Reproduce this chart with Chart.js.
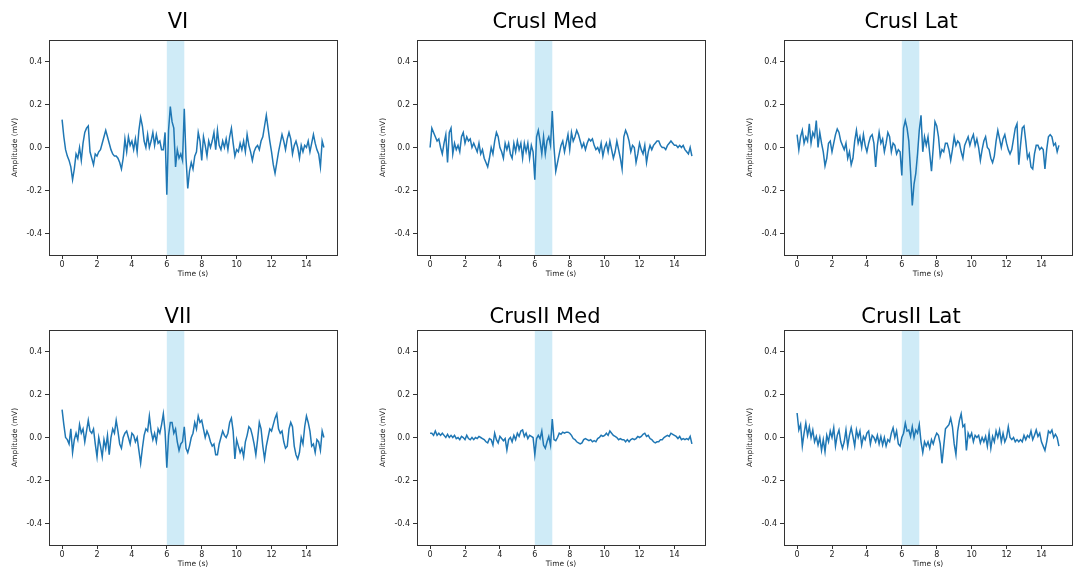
<!DOCTYPE html>
<html>
<head>
<meta charset="utf-8">
<script src="https://cdn.jsdelivr.net/npm/chart.js@4.4.0/dist/chart.umd.min.js"></script>
<style>
    html, body { margin: 0; padding: 0; background: #fff; overflow: hidden; }
    body { width: 1073px; height: 576px; position: relative; }
    canvas { position: absolute; }
    .title {
        position: absolute;
        width: 300px;
        margin-left: -150px;
        text-align: center;
        font-family: "DejaVu Sans", "Liberation Sans", sans-serif;
        font-size: 21px;
        line-height: 21px;
        color: #000;
    }
</style>
</head>
<body>
<canvas id="c0"></canvas>
<canvas id="c1"></canvas>
<canvas id="c2"></canvas>
<canvas id="c3"></canvas>
<canvas id="c4"></canvas>
<canvas id="c5"></canvas>
<script>
// time base, 0.1 s per sample
const times = Array.from({ length: 151 }, (_, i) => i / 10);
const xTicks = [0, 2, 4, 6, 8, 10, 12, 14];
const yTicks = [-0.4, -0.2, 0.0, 0.2, 0.4];
const bandRange = [6, 7];
const titles = ["VI", "CrusI Med", "CrusI Lat", "VII", "CrusII Med", "CrusII Lat"];

const vi = [
    0.13, 0.05, -0.01, -0.04, -0.06, -0.09, -0.15, -0.10, -0.03, -0.05,
    0.0, -0.06, 0.02, 0.07, 0.09, 0.10, -0.02, -0.05, -0.08, -0.03,
    -0.04, -0.02, -0.01, 0.02, 0.05, 0.08, 0.05, 0.02, -0.01, -0.03,
    -0.04, -0.04, -0.05, -0.07, -0.10, -0.05, 0.04, -0.02, 0.05, 0.01,
    0.03, -0.01, 0.04, -0.02, 0.08, 0.14, 0.10, 0.03, 0.0, 0.06,
    0.0, 0.03, 0.07, 0.01, 0.06, 0.02, 0.03, -0.01, -0.01, 0.07,
    -0.22, 0.08, 0.19, 0.12, 0.09, -0.09, -0.01, -0.05, -0.03, -0.06,
    0.18, -0.05, -0.19, -0.11, -0.07, -0.10, -0.04, -0.02, 0.07, 0.03,
    -0.06, 0.05, 0.01, -0.04, 0.03, 0.0, 0.03, 0.07, -0.01, 0.08,
    0.01, -0.01, 0.03, 0.0, 0.04, -0.01, 0.05, 0.09, 0.02, -0.04,
    -0.01, -0.02, 0.02, -0.01, 0.03, -0.02, 0.06, 0.01, -0.02, -0.06,
    -0.02, 0.0, 0.01, -0.01, 0.03, 0.05, 0.10, 0.15, 0.09, 0.03,
    -0.02, -0.08, -0.12, -0.07, -0.02, 0.02, 0.06, 0.03, -0.01, 0.04,
    0.07, 0.04, -0.03, 0.01, 0.03, 0.0, -0.05, 0.01, -0.02, 0.01,
    0.0, 0.03, -0.02, 0.02, 0.06, 0.02, -0.01, -0.03, -0.09, 0.03, 0.0
];

const crusIMed = [
    0.0, 0.09, 0.07, 0.05, 0.03, 0.04, 0.0, -0.03, 0.02, 0.06,
    -0.07, 0.07, 0.09, -0.03, 0.02, -0.01, 0.01, -0.02, 0.05, 0.07,
    0.02, 0.05, 0.03, 0.04, 0.0, 0.02, 0.0, -0.02, 0.02, -0.03,
    -0.01, -0.05, -0.07, -0.09, -0.05, 0.0, -0.03, 0.03, 0.07, 0.05,
    0.0, -0.02, -0.05, 0.02, -0.01, 0.02, -0.03, -0.05, 0.02, -0.02,
    0.03, -0.01, 0.02, -0.05, 0.02, -0.02, 0.02, -0.05, 0.01, -0.02,
    -0.15, 0.05, 0.08, 0.03, -0.03, 0.05, -0.03, 0.03, 0.05, 0.01,
    0.17, 0.0, -0.11, -0.07, -0.03, 0.01, 0.03, -0.02, 0.02, 0.06,
    -0.01, 0.07, 0.03, 0.05, 0.08, 0.06, 0.03, 0.0, 0.02, -0.01,
    0.02, 0.04, 0.03, 0.04, 0.01, -0.01, 0.0, -0.02, 0.02, -0.04,
    0.0, 0.02, -0.02, 0.03, -0.01, -0.05, -0.02, 0.03, -0.01, -0.05,
    -0.10, 0.05, 0.08, 0.06, 0.03, -0.02, 0.01, 0.0, -0.07, -0.03,
    0.02, -0.01, -0.03, 0.01, -0.07, -0.02, 0.01, -0.01, 0.01, 0.02,
    0.03, 0.03, 0.01, 0.0, 0.0, -0.01, 0.01, 0.02, 0.03, 0.02,
    0.01, 0.01, 0.0, 0.01, 0.0, 0.01, -0.01, -0.02, -0.03, 0.0, -0.04
];

const crusILat = [
    0.06, -0.01, 0.05, 0.08, 0.02, 0.05, 0.03, 0.11, 0.02, 0.07,
    0.05, 0.125, 0.0, 0.07, 0.02, -0.02, -0.086, -0.05, 0.02, 0.03,
    -0.02, 0.02, 0.06, 0.086, 0.07, 0.03, 0.01, -0.01, 0.02, -0.05,
    -0.02, -0.08, -0.05, 0.03, 0.08, 0.02, 0.05, 0.0, 0.06, 0.01,
    -0.02, 0.02, 0.05, 0.06, 0.02, -0.09, 0.01, 0.07, 0.02, 0.04,
    -0.02, 0.02, 0.07, 0.05, -0.02, 0.02, 0.01, -0.03, -0.01, -0.02,
    -0.13, 0.09, 0.125, 0.09, 0.03, -0.11, -0.27, -0.17, -0.12, -0.03,
    0.08, 0.15, -0.02, 0.05, 0.01, 0.05, -0.03, -0.11, 0.0, 0.12,
    0.10, 0.05, -0.04, -0.01, -0.02, 0.02, 0.02, -0.01, -0.06, -0.01,
    0.05, 0.01, 0.03, 0.02, -0.02, -0.05, 0.01, 0.03, 0.05, 0.01,
    0.04, 0.06, 0.01, 0.04, 0.0, -0.06, -0.01, 0.03, 0.05, 0.0,
    -0.01, -0.05, -0.07, -0.04, 0.03, 0.08, 0.04, 0.0, 0.04, 0.06,
    0.02, -0.01, -0.03, -0.01, 0.04, 0.09, 0.11, -0.08, 0.01, 0.09,
    0.10, 0.03, -0.05, -0.03, -0.09, -0.10, -0.03, 0.01, 0.01, -0.01,
    0.0, -0.01, -0.10, -0.01, 0.05, 0.06, 0.05, 0.01, 0.02, -0.02, 0.01
];

const vii = [
    0.13, 0.06, 0.0, -0.01, -0.03, 0.04, -0.07, -0.01, 0.02, -0.01,
    0.06, 0.02, 0.04, -0.02, 0.03, 0.08, 0.03, 0.02, 0.04, -0.03,
    -0.09, 0.0, -0.04, -0.09, -0.01, -0.05, 0.01, -0.08, 0.0, 0.04,
    0.02, 0.08, 0.03, -0.03, -0.05, 0.0, 0.02, 0.03, 0.0, -0.03,
    0.02, 0.01, -0.02, 0.0, -0.06, -0.12, -0.05, 0.01, 0.04, 0.03,
    0.10, 0.03, -0.01, 0.02, -0.02, 0.04, 0.02, 0.06, 0.11, 0.03,
    -0.14, 0.01, 0.07, 0.07, 0.02, 0.04, -0.02, -0.06, -0.03, -0.02,
    0.05, -0.05, -0.07, -0.04, 0.0, 0.02, 0.07, 0.04, 0.10, 0.07,
    0.08, 0.04, 0.0, 0.03, 0.01, -0.02, -0.04, -0.03, -0.08, -0.08,
    -0.03, 0.0, 0.03, 0.01, 0.0, 0.02, 0.07, 0.09, 0.03, -0.10,
    -0.01, -0.04, -0.07, -0.05, -0.09, -0.02, 0.01, 0.05, 0.04, 0.01,
    -0.03, -0.08, -0.01, 0.07, 0.04, -0.04, -0.10, -0.04, 0.0, 0.04,
    0.03, 0.06, 0.09, 0.11, 0.04, 0.02, 0.03, -0.02, -0.05, -0.04,
    0.04, 0.07, 0.05, -0.04, -0.08, -0.10, -0.07, 0.0, -0.03, 0.05,
    0.10, 0.07, 0.03, -0.04, -0.03, -0.07, -0.01, -0.02, -0.06, 0.03, 0.0
];

const crusIIMed = [
    0.02, 0.02, 0.01, 0.03, 0.01, 0.02, 0.01, 0.02, 0.01, 0.0,
    0.015, 0.0, 0.01, 0.0, 0.01, -0.005, 0.0, -0.01, 0.005, 0.0,
    -0.01, 0.01, -0.005, -0.01, 0.0, -0.01, 0.0, -0.005, 0.005, 0.0,
    -0.005, -0.01, -0.02, -0.025, -0.005, -0.01, -0.035, 0.02, -0.01, -0.025,
    0.005, -0.005, -0.015, -0.005, -0.058, -0.01, 0.0, -0.02, 0.01, -0.01,
    0.02, 0.005, 0.03, 0.035, 0.005, 0.02, -0.005, 0.01, 0.005, 0.0,
    -0.08, -0.005, 0.01, -0.005, 0.03, -0.035, -0.05, -0.02, 0.005, -0.035,
    0.086, -0.01, -0.015, 0.0, 0.02, 0.015, 0.025, 0.02, 0.025, 0.025,
    0.02, 0.01, -0.005, -0.01, -0.02, -0.025, -0.03, -0.025, -0.01, -0.005,
    -0.01, -0.015, -0.01, -0.02, -0.015, -0.02, -0.005, 0.0, 0.01, 0.005,
    0.01, 0.02, 0.01, 0.03, 0.02, 0.01, 0.005, 0.0, -0.01, -0.005,
    -0.01, -0.01, -0.02, -0.01, -0.02, -0.01, -0.005, -0.01, -0.005, 0.005,
    0.0, 0.005, 0.015, 0.02, 0.005, 0.01, -0.005, -0.01, -0.02, -0.025,
    -0.02, -0.02, -0.01, -0.01, 0.0, 0.005, 0.01, 0.005, 0.02, 0.015,
    0.01, 0.005, -0.005, 0.005, -0.01, -0.005, -0.01, -0.005, -0.01, 0.005, -0.03
];

const crusIILat = [
    0.114, 0.035, 0.06, -0.04, 0.02, 0.067, 0.01, 0.05, 0.0, 0.035,
    -0.02, 0.005, -0.035, 0.0, -0.06, -0.01, -0.066, 0.01, -0.02, 0.03,
    0.0, 0.045, -0.04, 0.01, 0.035, -0.02, -0.05, -0.02, 0.035, -0.04,
    0.01, 0.045, 0.005, -0.04, 0.035, 0.0, 0.03, -0.035, 0.005, -0.01,
    0.02, 0.03, -0.03, 0.01, 0.0, -0.02, 0.01, -0.03, 0.005, -0.035,
    0.0, -0.04, -0.01, -0.02, 0.02, 0.045, 0.0, 0.03, -0.03, -0.04,
    0.0, 0.02, 0.067, 0.03, 0.035, 0.005, 0.05, 0.0, 0.035, 0.02,
    0.06, -0.02, -0.07, -0.02, -0.04, -0.02, -0.05, -0.01, -0.03, 0.0,
    0.02, 0.01, -0.03, -0.12, -0.04, 0.04, 0.05, 0.06, 0.09, 0.05,
    -0.03, -0.08, 0.03, 0.08, 0.11, 0.05, 0.06, -0.06, 0.02, 0.0,
    0.02, -0.02, 0.01, 0.0, 0.01, -0.025, 0.0, -0.02, 0.005, -0.04,
    0.02, -0.05, 0.005, -0.02, 0.03, 0.0, 0.035, -0.02, 0.02, -0.02,
    0.0, 0.05, 0.0, -0.01, 0.0, -0.02, -0.01, -0.02, -0.01, -0.02,
    0.01, -0.01, 0.01, 0.0, 0.03, -0.01, 0.01, 0.035, 0.005, 0.02,
    -0.02, -0.04, -0.06, -0.02, 0.03, 0.02, 0.035, 0.0, 0.015, 0.0, -0.04
];

const series = [vi, crusIMed, crusILat, vii, crusIIMed, crusIILat];

// page geometry of each subplot
const colLeft = [5, 373, 740];
const colWidth = [346, 346, 344];
const spineLeft = [49, 417, 784];
const spineRight = [337, 705, 1072];
const titleCenter = [178, 545, 911];
const rowTop = [0, 290];
const rowHeight = [290, 286];
const titleTop = [11, 306];

const FONT = "'DejaVu Sans', 'Liberation Sans', sans-serif";

const bandPlugin = {
    id: "bandAndFrame",
    beforeDatasetsDraw(chart) {
        const { ctx, chartArea, scales } = chart;
        const x0 = scales.x.getPixelForValue(bandRange[0]);
        const x1 = scales.x.getPixelForValue(bandRange[1]);
        ctx.save();
        ctx.fillStyle = "rgba(135, 206, 235, 0.4)";
        ctx.fillRect(x0, chartArea.top, x1 - x0, chartArea.bottom - chartArea.top);
        ctx.restore();
    },
    afterDraw(chart) {
        const { ctx, chartArea } = chart;
        ctx.save();
        ctx.strokeStyle = "#333";
        ctx.lineWidth = 1;
        ctx.strokeRect(
            Math.round(chartArea.left) + 0.5,
            Math.round(chartArea.top) + 0.5,
            Math.round(chartArea.right - chartArea.left),
            Math.round(chartArea.bottom - chartArea.top)
        );
        ctx.restore();
    },
};

series.forEach((values, k) => {
    const col = k % 3;
    const row = Math.floor(k / 3);
    const canvas = document.getElementById("c" + k);
    const w = colWidth[col];
    const h = rowHeight[row];
    canvas.width = w;
    canvas.height = h;
    canvas.style.left = colLeft[col] + "px";
    canvas.style.top = rowTop[row] + "px";
    canvas.style.width = w + "px";
    canvas.style.height = h + "px";

    // subplot title as page text
    const title = document.createElement("div");
    title.className = "title";
    title.textContent = titles[k];
    title.style.left = titleCenter[col] + "px";
    title.style.top = titleTop[row] + "px";
    document.body.appendChild(title);

    const yWidth = spineLeft[col] - colLeft[col];
    const padRight = colLeft[col] + w - spineRight[col];
    const xHeight = 26;
    const padBottom = h - 40 - 215 - xHeight;

    new Chart(canvas.getContext("2d"), {
        type: "line",
        data: {
            datasets: [
                {
                    data: times.map((t, i) => ({ x: t, y: values[i] })),
                    borderColor: "#1f77b4",
                    borderWidth: 1.5,
                    pointRadius: 0,
                    tension: 0,
                    fill: false,
                },
            ],
        },
        options: {
            responsive: false,
            animation: false,
            devicePixelRatio: 1,
            layout: {
                autoPadding: false,
                padding: { left: 0, right: padRight, top: 40, bottom: padBottom },
            },
            plugins: {
                legend: { display: false },
                tooltip: { enabled: false },
                title: { display: false },
            },
            scales: {
                x: {
                    type: "linear",
                    min: -0.75,
                    max: 15.75,
                    afterBuildTicks: (s) => { s.ticks = xTicks.map((v) => ({ value: v })); },
                    afterFit: (s) => { s.height = xHeight; },
                    grid: { drawOnChartArea: false, tickLength: 4, color: "#333" },
                    border: { display: false },
                    ticks: {
                        padding: 1,
                        maxRotation: 0,
                        color: "#222",
                        font: { family: FONT, size: 8 },
                    },
                    title: {
                        display: true,
                        text: "Time (s)",
                        color: "#222",
                        font: { family: FONT, size: 7.5 },
                        padding: { top: 0, bottom: 2 },
                    },
                },
                y: {
                    min: -0.5,
                    max: 0.5,
                    afterBuildTicks: (s) => { s.ticks = yTicks.map((v) => ({ value: v })); },
                    afterFit: (s) => { s.width = yWidth; },
                    grid: { drawOnChartArea: false, tickLength: 4, color: "#333" },
                    border: { display: false },
                    ticks: {
                        padding: 3,
                        color: "#222",
                        font: { family: FONT, size: 8 },
                        callback: (v) => v.toFixed(1),
                    },
                    title: {
                        display: true,
                        text: "Amplitude (mV)",
                        color: "#222",
                        font: { family: FONT, size: 7.5 },
                        padding: { top: 6, bottom: 0 },
                    },
                },
            },
        },
        plugins: [bandPlugin],
    });
});
</script>
</body>
</html>
